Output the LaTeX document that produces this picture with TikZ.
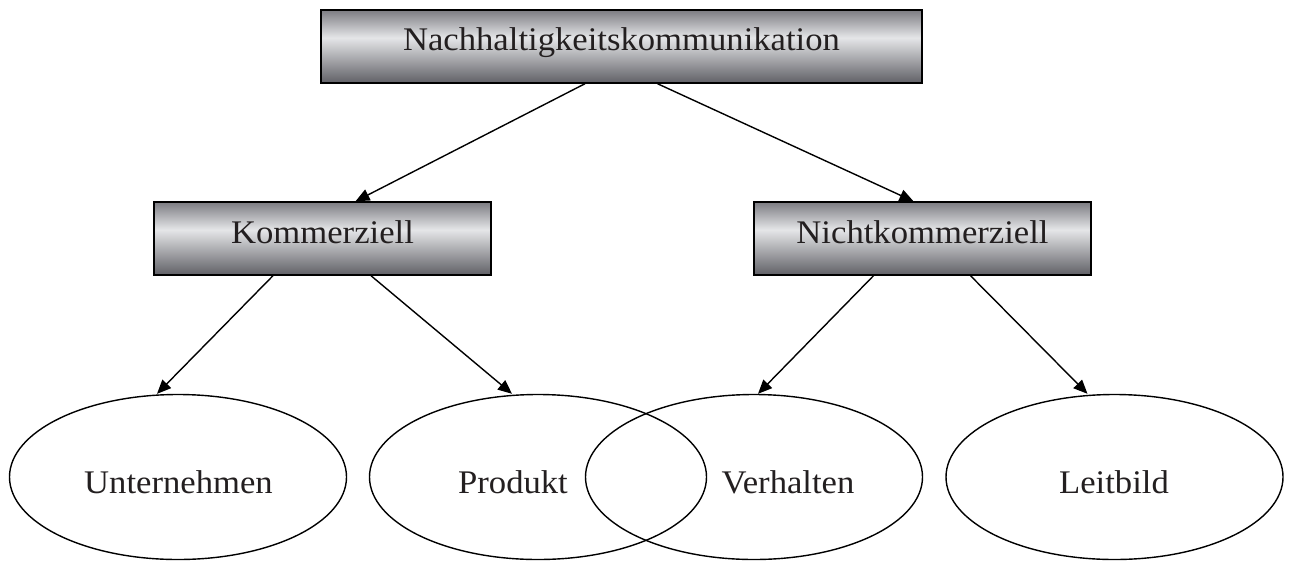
\documentclass[tikz,border=0pt]{standalone}
\usepackage{fontspec}
\setmainfont{Liberation Serif}[FakeStretch=1.05]
\usetikzlibrary{shapes.geometric,arrows.meta}

\definecolor{barTop}{RGB}{124,124,130}
\definecolor{barMid}{RGB}{229,230,232}
\definecolor{barBottom}{RGB}{96,96,102}
\definecolor{inkText}{RGB}{35,31,32}

% metallic bar: dark edges, light band a little above the middle
% (the node spans 25bp..75bp of the shading)
\pgfdeclareverticalshading{barshade}{100bp}{
  color(0bp)=(barBottom); color(25bp)=(barBottom);
  color(56bp)=(barMid);
  color(75bp)=(barTop); color(100bp)=(barTop)}

\tikzset{
  labeltext/.style={font=\fontsize{33}{40}\selectfont, text=inkText, inner sep=0pt},
  barbox/.style={draw=black, line width=1.4pt, inner sep=0pt,
    minimum width=337pt, minimum height=73pt, shading=barshade},
  oval/.style={ellipse, draw=black, line width=1.4pt, inner sep=0pt,
    minimum width=337pt, minimum height=165pt},
  link/.style={draw=black, line width=1.4pt,
    -{Triangle[length=14pt,width=12pt]}},
}

\begin{document}
\begin{tikzpicture}[x=1pt,y=-1pt]
\useasboundingbox (0,0) rectangle (1289,560);

% hierarchy boxes
\node[barbox, minimum width=601pt] (root) at (621.5,46.5) {};
\node[labeltext, anchor=base] (rootT) at (621.5,50) {Nachhaltigkeitskommunikation};

\node[barbox] (kom) at (322.5,238.5) {};
\node[labeltext, anchor=base] (komT) at (322.5,243) {Kommerziell};

\node[barbox] (nkom) at (922.5,238.5) {};
\node[labeltext, anchor=base] (nkomT) at (922.5,243) {Nichtkommerziell};

% bottom ellipses (Produkt and Verhalten overlap)
\node[oval] (eU) at (178,477) {};
\node[oval] (eP) at (538,477) {};
\node[oval] (eV) at (754,477) {};
\node[oval] (eL) at (1114.5,477) {};

\node[labeltext, anchor=base] (tU) at (178.5,493) {Unternehmen};
\node[labeltext, anchor=base] (tP) at (513,493) {Produkt};
\node[labeltext, anchor=base] (tV) at (788,493) {Verhalten};
\node[labeltext, anchor=base] (tL) at (1114,493) {Leitbild};

% connectors
\draw[link] ([xshift=-36.5pt]root.south) -- ([xshift=33pt]kom.north);
\draw[link] ([xshift=36pt]root.south) -- ([xshift=-9pt]nkom.north);

\draw[link] ([xshift=-49.5pt]kom.south) -- ([xshift=-21pt]eU.north);
\draw[link] ([xshift=48.5pt]kom.south) -- ([xshift=-26pt]eP.north);

\draw[link] ([xshift=-49pt]nkom.south) -- ([xshift=4pt]eV.north);
\draw[link] ([xshift=48pt]nkom.south) -- ([xshift=-27pt]eL.north);
\end{tikzpicture}
\end{document}
